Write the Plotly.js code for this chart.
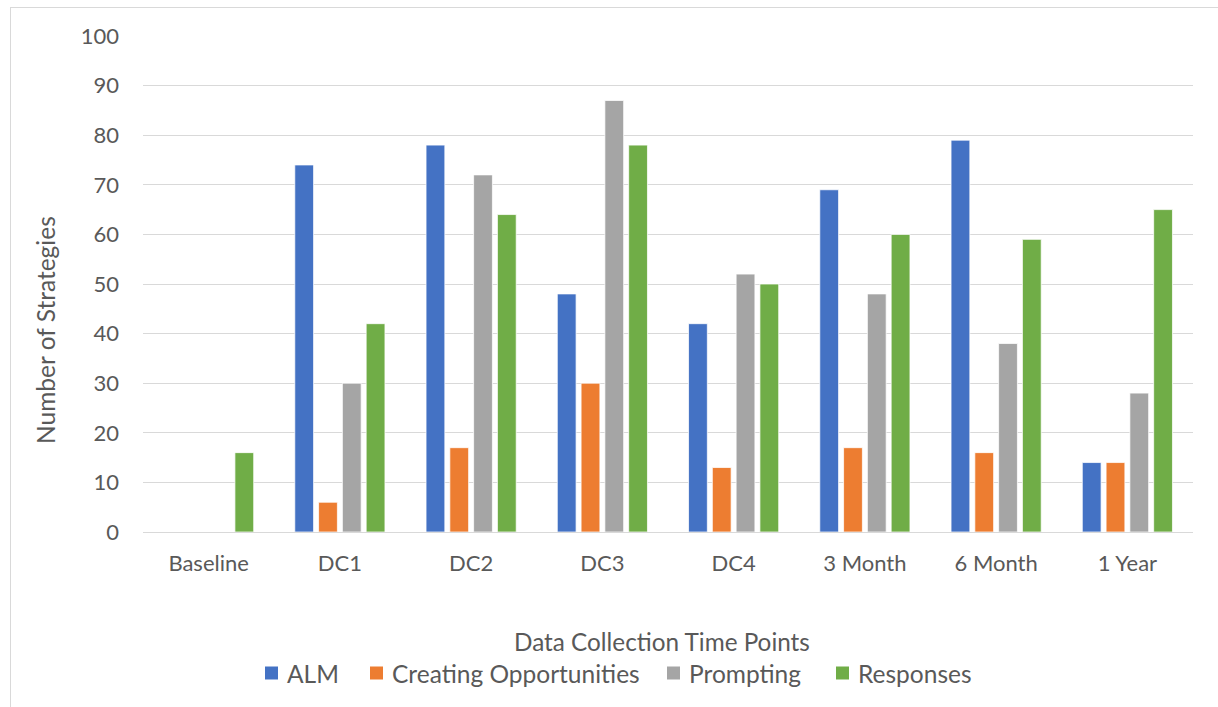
<!DOCTYPE html>
<html>
<head>
<meta charset="utf-8">
<script src="https://cdn.plot.ly/plotly-3.0.1.min.js"></script>
<style>
  html, body { margin: 0; padding: 0; background: #ffffff; }
  #chart { position: absolute; left: 0; top: 0; width: 1218px; height: 707px; }
  #frame { position: absolute; left: 10px; top: 7px; width: 1220px; height: 710px;
           border-left: 1px solid #d9d9d9; border-top: 1px solid #d9d9d9; pointer-events: none; }
</style>
</head>
<body>
<div id="chart"></div>
<div id="frame"></div>
<script>
// Time points at which strategies were counted
const timePoints = ["Baseline", "DC1", "DC2", "DC3", "DC4", "3 Month", "6 Month", "1 Year"];

// Number of strategies per category at each time point
const alm          = [0, 74, 78, 48, 42, 69, 79, 14];
const creatingOpps = [0, 6, 17, 30, 13, 17, 16, 14];
const prompting    = [0, 30, 72, 87, 52, 48, 38, 28];
const responses    = [16, 42, 64, 78, 50, 60, 59, 65];

const seriesNames  = ["ALM", "Creating Opportunities", "Prompting", "Responses"];
const seriesValues = [alm, creatingOpps, prompting, responses];
const seriesColors = ["#4472C4", "#ED7D31", "#A5A5A5", "#70AD47"];

const FONT = "Lato, 'Noto Sans', sans-serif";
const TEXT_COLOR = "#595959";

// Plot-area geometry in pixels, used to place the legend and titles
const W = 1218, H = 707;
const M = { l: 143, r: 25, t: 36, b: 175 };
const plotW = W - M.l - M.r, plotH = H - M.t - M.b;
const px = x => (x - M.l) / plotW;
const py = y => (H - M.b - y) / plotH;

const traces = seriesNames.map((name, i) => ({
  type: "bar",
  name: name,
  x: timePoints,
  y: seriesValues[i],
  marker: { color: seriesColors[i], line: { color: "#ffffff", width: 0.75 } },
  hoverinfo: "x+y+name",
  showlegend: false
}));

// Legend drawn as coloured squares followed by labels, laid out in one row
const legendSquareX = [265, 370, 667, 836];
const legendY = 673;
const legendShapes = seriesNames.map((name, i) => ({
  type: "rect",
  xref: "paper", yref: "paper",
  x0: px(legendSquareX[i]), x1: px(legendSquareX[i] + 13),
  y0: py(legendY + 6.5), y1: py(legendY - 6.5),
  fillcolor: seriesColors[i],
  line: { width: 0 }
}));
const legendLabels = seriesNames.map((name, i) => ({
  text: name,
  xref: "paper", yref: "paper",
  x: px(legendSquareX[i] + 20), y: py(legendY),
  xanchor: "left", yanchor: "middle",
  showarrow: false,
  font: { family: FONT, size: 24.5, color: TEXT_COLOR }
}));

const layout = {
  width: W,
  height: H,
  margin: M,
  paper_bgcolor: "#ffffff",
  plot_bgcolor: "#ffffff",
  barmode: "group",
  bargap: 0.275,
  bargroupgap: 0.21,
  font: { family: FONT, color: TEXT_COLOR, size: 22 },
  showlegend: false,
  xaxis: {
    type: "category",
    showgrid: false,
    showline: true,
    linecolor: "#d9d9d9",
    linewidth: 1,
    ticks: "",
    ticklabelstandoff: 12,
    tickfont: { family: FONT, size: 22, color: TEXT_COLOR },
    fixedrange: true
  },
  yaxis: {
    range: [0, 100],
    dtick: 10,
    showgrid: true,
    gridcolor: "#d9d9d9",
    gridwidth: 1,
    zeroline: false,
    showline: false,
    ticks: "",
    ticklabelstandoff: 23,
    tickfont: { family: FONT, size: 22, color: TEXT_COLOR },
    fixedrange: true
  },
  shapes: legendShapes,
  annotations: [
    {
      text: "Data Collection Time Points",
      xref: "paper", yref: "paper",
      x: px(662), y: py(641),
      xanchor: "center", yanchor: "middle",
      showarrow: false,
      font: { family: FONT, size: 24.3, color: TEXT_COLOR }
    },
    {
      text: "Number of Strategies",
      xref: "paper", yref: "paper",
      x: px(45), y: py(330),
      xanchor: "center", yanchor: "middle",
      textangle: -90,
      showarrow: false,
      font: { family: FONT, size: 24.5, color: TEXT_COLOR }
    }
  ].concat(legendLabels)
};

Plotly.newPlot("chart", traces, layout, { displayModeBar: false });
</script>
</body>
</html>
